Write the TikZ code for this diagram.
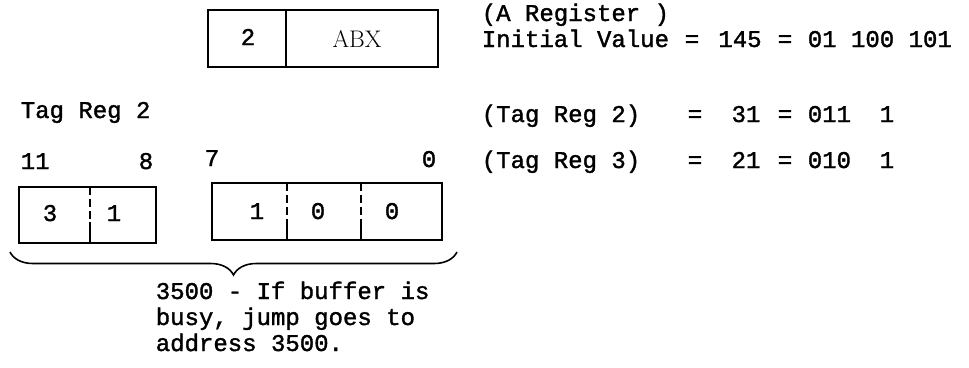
\documentclass[tikz,border=0pt]{standalone}
\usepackage{fontspec}
\setmonofont{Liberation Mono}[FakeBold=1.5]
\usetikzlibrary{decorations.pathreplacing,positioning}
\tikzset{
  lbl/.style={font=\ttfamily\fontsize{24}{27}\selectfont, inner sep=0pt, text height=17pt, text depth=5pt},
  regbox/.style={draw, minimum height=57pt, inner sep=0pt},
  split/.style={dash pattern=on 8pt off 4pt},
}
\begin{document}
\begin{tikzpicture}[x=1pt, y=-1pt, line width=1.6pt]
	\useasboundingbox (0,0) rectangle (969,367);

	% instruction word
	\node[regbox, minimum width=230pt] (instr) at (323,38.5) {};
	\draw (286,10) -- (286,67);
	\node[lbl] (tagno) at (248,39) {2};
	\node[font=\rmfamily\fontsize{24}{27}\selectfont, inner sep=0pt] (addr) at (357,39) {ABX};

	% register values
	\node[lbl, anchor=base west] (areg) at (481,21) {(A Register )};
	\node[lbl, anchor=base west] (init) at (481,47) {Initial Value};
	\node[lbl, anchor=base] (eqa) at (692,47) {=};
	\node[lbl, anchor=base] (deca) at (740,47) {145};
	\node[lbl, anchor=base] (eqb) at (785,47) {=};
	\node[lbl, anchor=base west] (bina) at (807,47) {01 100 101};

	\node[lbl, anchor=base west] (treg2) at (481,122) {(Tag Reg 2)};
	\node[lbl, anchor=base] (eqc) at (695,122) {=};
	\node[lbl, anchor=base] (decb) at (746,122) {31};
	\node[lbl, anchor=base] (eqd) at (785,122) {=};
	\node[lbl, anchor=base west] (binb) at (807,122) {011\ \ 1};

	\node[lbl, anchor=base west] (treg3) at (481,168) {(Tag Reg 3)};
	\node[lbl, anchor=base] (eqe) at (695,168) {=};
	\node[lbl, anchor=base] (decc) at (746,168) {21};
	\node[lbl, anchor=base] (eqf) at (785,168) {=};
	\node[lbl, anchor=base west] (binc) at (807,168) {010\ \ 1};

	% tag register 2
	\node[lbl, anchor=base west] (tagtitle) at (20,118) {Tag Reg 2};
	\node[lbl, anchor=base west] (bit11) at (20,169) {11};
	\node[lbl, anchor=base east] (bit8) at (154,169) {8};
	\node[lbl, anchor=base west] (bit7) at (204,166) {7};
	\node[lbl, anchor=base east] (bit0) at (437,167) {0};

	\node[regbox, minimum width=137pt, minimum height=56pt] (hifld) at (87.5,215) {};
	\draw[split] (90,187) -- (90,222);
	\draw (90,222) -- (90,243);
	\node[lbl] (hia) at (50,215) {3};
	\node[lbl] (hib) at (114,215) {1};

	\node[regbox, minimum width=230pt] (lofld) at (327,211.5) {};
	\draw[split] (287,183) -- (287,220);
	\draw (287,220) -- (287,240);
	\draw[split] (361,183) -- (361,220);
	\draw (361,220) -- (361,240);
	\node[lbl] (loa) at (257,213) {1};
	\node[lbl] (lob) at (318,213) {0};
	\node[lbl] (loc) at (392,213) {0};

	\coordinate (bl) at (10,252);
	\coordinate (br) at (457,252);
	\draw[decorate, decoration={brace, mirror, amplitude=23pt}] (bl) -- (br);

	\node[lbl, anchor=west] (note1) at (155,293) {3500 - If buffer is};
	\node[lbl, anchor=west] (note2) at ([yshift=-26pt]note1.west) {busy, jump goes to};
	\node[lbl, anchor=west] (note3) at ([yshift=-26pt]note2.west) {address 3500.};
\end{tikzpicture}
\end{document}
